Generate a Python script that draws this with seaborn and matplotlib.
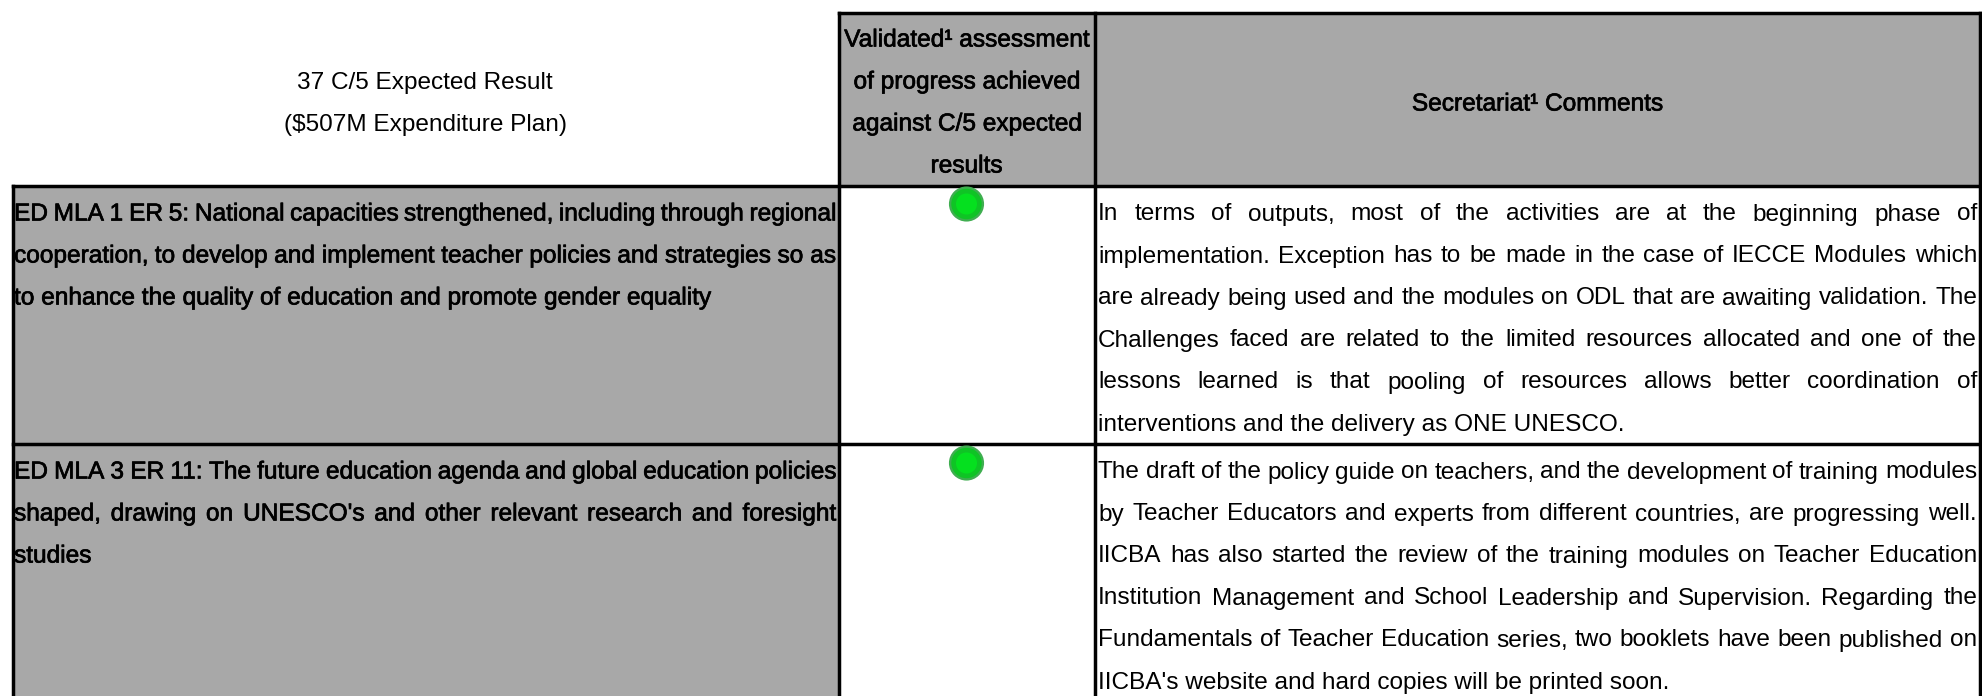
import matplotlib
matplotlib.use("Agg")
import matplotlib.pyplot as plt
import matplotlib.patheffects as pe
import seaborn as sns
import pandas as pd

sns.set_theme(style="white")
plt.rcParams['font.family'] = ['Liberation Sans', 'DejaVu Sans']

row_status = ["green", "green"]
header_left = ["37 C/5 Expected Result", "($507M Expenditure Plan)"]
header_mid = ["Validated¹ assessment", "of progress achieved", "against C/5 expected", "results"]
header_right = ["Secretariat¹ Comments"]
row1_left = ["ED MLA 1 ER 5: National capacities strengthened, including through regional",
             "cooperation, to develop and implement teacher policies and strategies so as",
             "to enhance the quality of education and promote gender equality"]
row2_left = ["ED MLA 3 ER 11: The future education agenda and global education policies",
             "shaped, drawing on UNESCO's and other relevant research and foresight",
             "studies"]
row1_right = ["In terms of outputs, most of the activities are at the beginning phase of",
              "implementation. Exception has to be made in the case of IECCE Modules which",
              "are already being used and the modules on ODL that are awaiting validation. The",
              "Challenges faced are related to the limited resources allocated and one of the",
              "lessons learned is that pooling of resources allows better coordination of",
              "interventions and the delivery as ONE UNESCO."]
row2_right = ["The draft of the policy guide on teachers, and the development of training modules",
              "by Teacher Educators and experts from different countries, are progressing well.",
              "IICBA has also started the review of the training modules on Teacher Education",
              "Institution Management and School Leadership and Supervision. Regarding the",
              "Fundamentals of Teacher Education series, two booklets have been published on",
              "IICBA's website and hard copies will be printed soon."]

W, H = 1982, 696
fig = plt.figure(figsize=(W / 100, H / 100), dpi=100, facecolor="white")
ax = fig.add_axes([0, 0, 1, 1])
ax.set_xlim(0, W)
ax.set_ylim(H, 0)
ax.axis("off")

GREY = "#a8a8a8"
X0, X1, X2, X3 = 12.5, 838.5, 1094.5, 1979.5
Y0, Y1, Y2, Y3 = 12.5, 186, 443.5, 697
FS = 17.6
LW = 2.5

ax.fill_between([X1, X3], Y0, Y1, color=GREY, lw=0, zorder=0)
ax.fill_between([X0, X1], Y1, Y3, color=GREY, lw=0, zorder=0)

for x, y0, y1 in [(X0, Y1, Y3), (X1, Y0, Y3), (X2, Y0, Y3), (X3, Y0, Y3)]:
    ax.plot([x, x], [y0, y1], color="black", lw=LW, zorder=3, solid_capstyle="projecting")
for y, x0, x1 in [(Y0, X1, X3), (Y1, X0, X3), (Y2, X0, X3)]:
    ax.plot([x0, x1], [y, y], color="black", lw=LW, zorder=3, solid_capstyle="projecting")

BOLD = [pe.withStroke(linewidth=0.5, foreground="black")]
renderer = fig.canvas.get_renderer()


def put(s, x, y, ha="left", bold=False):
    t = ax.text(x, y, s, fontsize=FS, color="black", ha=ha, va="center_baseline", zorder=4)
    if bold:
        t.set_path_effects(BOLD)
    return t


def width(s):
    t = ax.text(0, 0, s, fontsize=FS)
    w = t.get_window_extent(renderer).width
    t.remove()
    return w


def block(lines, x0, x1, y_first, bold=False, step=42):
    for i, line in enumerate(lines):
        y = y_first + i * step
        words = line.split()
        if i == len(lines) - 1 or len(words) == 1:
            put(line, x0, y, bold=bold)
            continue
        widths = [width(w) for w in words]
        gap = (x1 - x0 - sum(widths)) / (len(words) - 1)
        x = x0
        for w, wd in zip(words, widths):
            put(w, x, y, bold=bold)
            x += wd + gap


for i, s in enumerate(header_left):
    put(s, 425, 80 + i * 42, ha="center")
for i, s in enumerate(header_mid):
    put(s, 966.5, 38 + i * 42, ha="center", bold=True)
put(header_right[0], 1537, 102, ha="center", bold=True)

block(row1_left, 14, 836, 212, bold=True)
block(row2_left, 14, 836, 470, bold=True)
block(row1_right, 1098, 1977, 212)
block(row2_right, 1098, 1977, 470)

dots = pd.DataFrame({"x": [966.5, 966.5], "y": [204, 463], "status": row_status})
for size, colour, z in [(640, "#3fae50", 5), (480, "#0fc425", 6), (230, "#05e01f", 7)]:
    sns.scatterplot(data=dots, x="x", y="y", hue="status", palette={"green": colour},
                    s=size, linewidth=0, legend=False, ax=ax, zorder=z)
ax.set_xlim(0, W)
ax.set_ylim(H, 0)
ax.set_xlabel("")
ax.set_ylabel("")
ax.axis("off")

fig.savefig("out.png", dpi=100, facecolor="white")
